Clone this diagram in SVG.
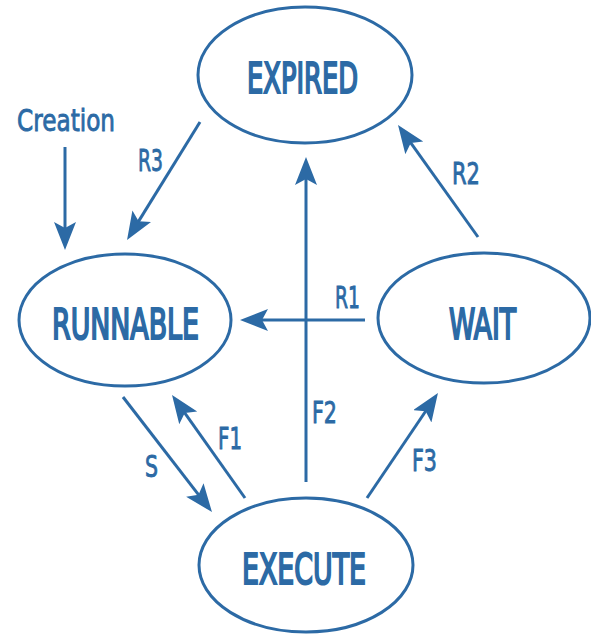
<svg xmlns="http://www.w3.org/2000/svg" width="591" height="637" viewBox="0 0 591 637">
  <style>
    .node { fill: #ffffff; stroke: #2c6aa5; stroke-width: 3; }
    .nlabel { font-family: "DejaVu Sans", "Liberation Sans", sans-serif; font-weight: normal; font-size: 42px; fill: #2c6aa5; stroke: #2c6aa5; stroke-width: 2.2; }
    .elabel { font-family: "DejaVu Sans", "Liberation Sans", sans-serif; font-size: 30px; fill: #2c6aa5; stroke: #2c6aa5; stroke-width: 0.9; }
    .edge { fill: none; stroke: #2c6aa5; stroke-width: 3; marker-end: url(#arrow); }
  </style>
  <defs>
    <marker id="arrow" markerUnits="userSpaceOnUse" markerWidth="30" markerHeight="24" refX="22" refY="11" orient="auto">
      <path d="M0,0 L28,11 L0,22 L6,11 Z" fill="#2c6aa5"/>
    </marker>
  </defs>
  <rect width="591" height="637" fill="#ffffff"/>

  <g id="edges">
    <g id="e-creation">
      <line class="edge" x1="65" y1="147" x2="65" y2="244"/>
      <text class="elabel" x="17" y="131" textLength="98" lengthAdjust="spacingAndGlyphs">Creation</text>
    </g>
    <g id="e-r3">
      <line class="edge" x1="200" y1="122" x2="130.2" y2="234.9"/>
      <text class="elabel" x="138" y="171" textLength="25" lengthAdjust="spacingAndGlyphs">R3</text>
    </g>
    <g id="e-r2">
      <line class="edge" x1="478" y1="237" x2="401.5" y2="129.9"/>
      <text class="elabel" x="452" y="184" textLength="28" lengthAdjust="spacingAndGlyphs">R2</text>
    </g>
    <g id="e-r1">
      <line class="edge" x1="365" y1="320" x2="246" y2="320"/>
      <text class="elabel" x="335" y="308" textLength="25" lengthAdjust="spacingAndGlyphs">R1</text>
    </g>
    <g id="e-f2">
      <line class="edge" x1="306" y1="482" x2="306" y2="163"/>
      <text class="elabel" x="312" y="423" textLength="25" lengthAdjust="spacingAndGlyphs">F2</text>
    </g>
    <g id="e-f3">
      <line class="edge" x1="367" y1="498" x2="434.6" y2="398"/>
      <text class="elabel" x="412" y="471" textLength="25" lengthAdjust="spacingAndGlyphs">F3</text>
    </g>
    <g id="e-s">
      <line class="edge" x1="123" y1="397" x2="208.3" y2="507.3"/>
      <text class="elabel" x="145" y="477" textLength="13" lengthAdjust="spacingAndGlyphs">S</text>
    </g>
    <g id="e-f1">
      <line class="edge" x1="245" y1="498" x2="175.5" y2="399.9"/>
      <text class="elabel" x="218" y="449" textLength="24" lengthAdjust="spacingAndGlyphs">F1</text>
    </g>
  </g>

  <g id="expired">
    <ellipse class="node" cx="305" cy="75" rx="107" ry="68"/>
    <text class="nlabel" x="247" y="93" textLength="111" lengthAdjust="spacingAndGlyphs">EXPIRED</text>
  </g>
  <g id="runnable">
    <ellipse class="node" cx="125" cy="320" rx="106" ry="66"/>
    <text class="nlabel" x="52" y="339" textLength="147" lengthAdjust="spacingAndGlyphs">RUNNABLE</text>
  </g>
  <g id="wait">
    <ellipse class="node" cx="484" cy="318" rx="106" ry="65"/>
    <text class="nlabel" x="449" y="339" textLength="67" lengthAdjust="spacingAndGlyphs">WAIT</text>
  </g>
  <g id="execute">
    <ellipse class="node" cx="306" cy="565" rx="107" ry="67"/>
    <text class="nlabel" x="242" y="584" textLength="124" lengthAdjust="spacingAndGlyphs">EXECUTE</text>
  </g>
</svg>
